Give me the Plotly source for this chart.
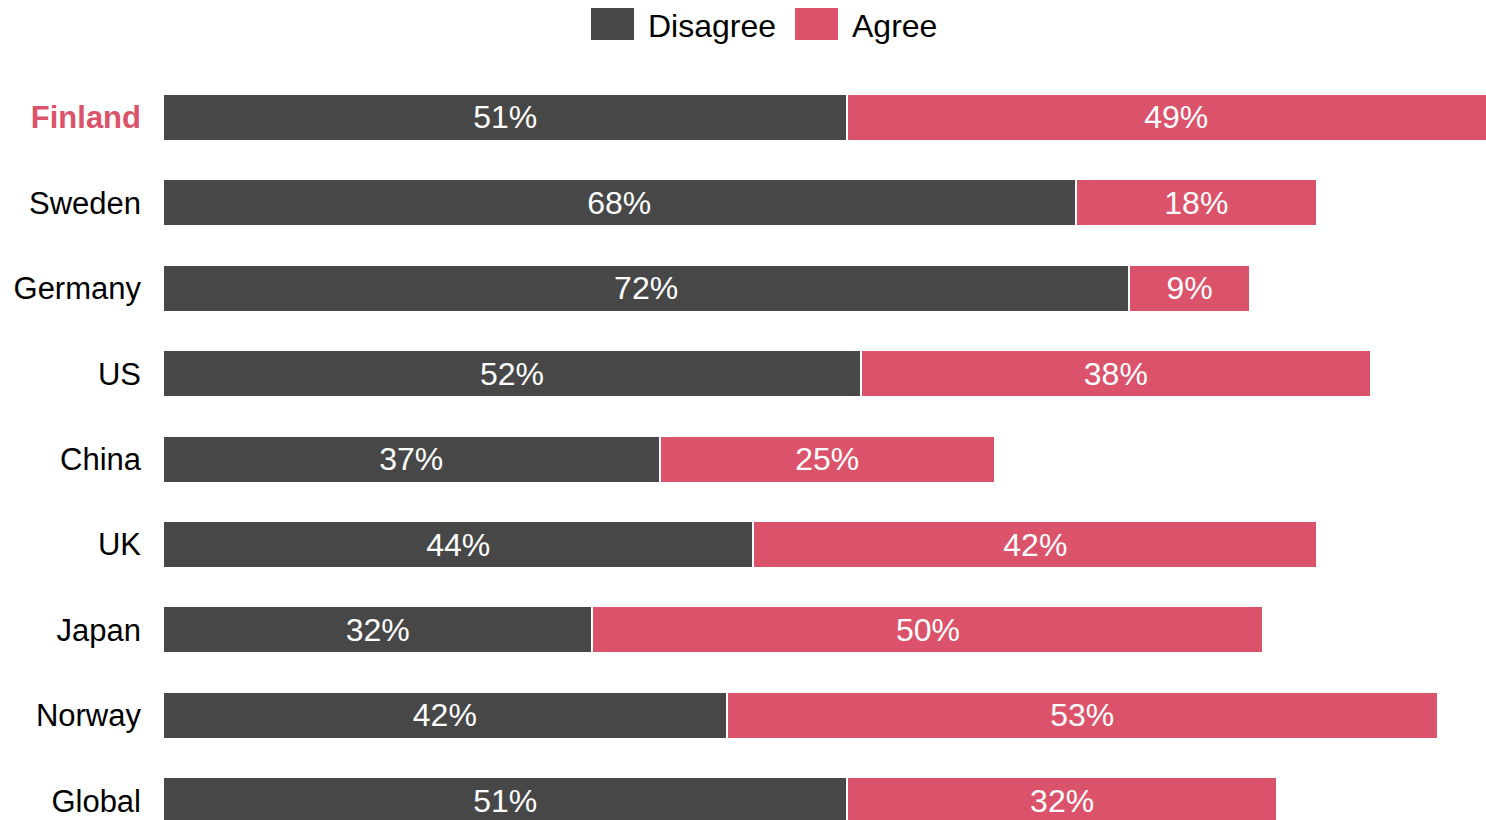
import plotly.graph_objects as go

countries = ["Finland", "Sweden", "Germany", "US", "China", "UK", "Japan", "Norway", "Global"]
disagree = [51, 68, 72, 52, 37, 44, 32, 42, 51]
agree = [49, 18, 9, 38, 25, 42, 50, 53, 32]

DARK = "#474747"
RED = "#db536a"
FONT = "Liberation Sans, Arial, sans-serif"
W, H = 1486, 820
ML, MT = 163, 60

tick_text = [
    "<b><span style='color:%s'>%s</span></b>" % (RED, c) if c == "Finland" else c
    for c in countries
]

fig = go.Figure()
for name, vals, col in [("Disagree", disagree, DARK), ("Agree", agree, RED)]:
    fig.add_trace(go.Bar(
        y=countries, x=vals, name=name, orientation="h",
        marker=dict(color=col, line=dict(color="white", width=2)),
        width=0.55,
        text=["%d%%" % v for v in vals],
        textposition="inside", insidetextanchor="middle",
        constraintext="none",
        textfont=dict(color="white", size=32, family=FONT),
        showlegend=False, hoverinfo="skip",
    ))

# legend drawn as swatches + labels above the plot
def px_x(p):
    return (p - ML) / (W - ML)

def px_y(p):
    return (H - p) / (H - MT)

legend_items = [("Disagree", DARK, 591, 646), ("Agree", RED, 795, 850)]
for label, col, x0, tx in legend_items:
    fig.add_shape(type="rect", xref="paper", yref="paper",
                  x0=px_x(x0), x1=px_x(x0 + 43), y0=px_y(40), y1=px_y(8),
                  fillcolor=col, line=dict(width=0))
    fig.add_annotation(xref="paper", yref="paper", x=px_x(tx), y=px_y(26),
                       text=label, showarrow=False, xanchor="left", yanchor="middle",
                       font=dict(size=32, color="black", family=FONT))

fig.update_layout(
    barmode="stack",
    width=W, height=H,
    margin=dict(l=ML, r=0, t=MT, b=0, pad=0),
    paper_bgcolor="white", plot_bgcolor="white",
    font=dict(family=FONT, size=31, color="black"),
    xaxis=dict(range=[0, (W - ML) / 13.42], visible=False, fixedrange=True),
    yaxis=dict(
        categoryorder="array", categoryarray=countries,
        tickmode="array", tickvals=countries, ticktext=tick_text,
        range=[8.224, -0.671],
        showgrid=False, zeroline=False, showline=False,
        ticks="", ticklabelstandoff=21,
        tickfont=dict(size=31, color="black", family=FONT),
    ),
)

fig.write_html("out.html", config={"displayModeBar": False})
